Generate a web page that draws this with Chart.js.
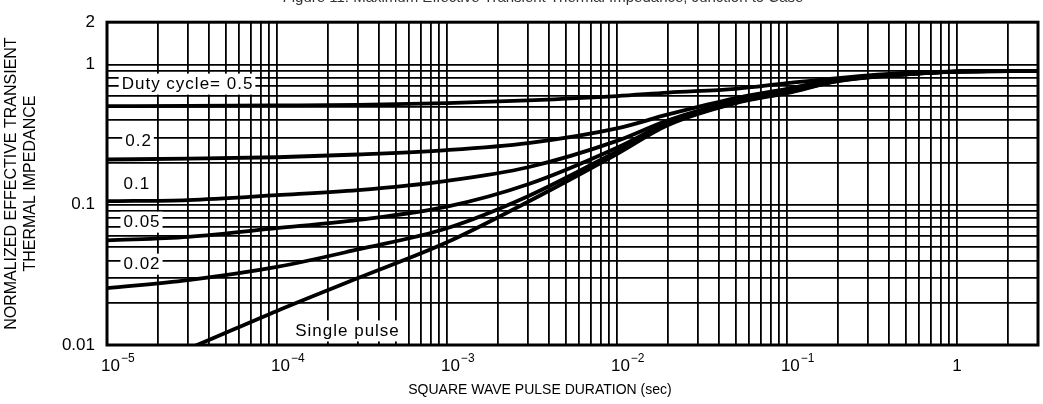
<!DOCTYPE html>
<html>
<head>
<meta charset="utf-8">
<title>Transient Thermal Impedance</title>
<script src="https://cdn.jsdelivr.net/npm/chart.js@4.4.1/dist/chart.umd.min.js"></script>
<style>
  html, body { margin: 0; padding: 0; background: #fff; }
  #chart { display: block; }
</style>
</head>
<body>
<canvas id="chart" width="1043" height="404"></canvas>
<script>
const pulseTimes = [1e-5, 3e-5, 1e-4, 3e-4, 1e-3, 3e-3, 1e-2, 2e-2, 5e-2, 0.1, 0.2, 0.5, 1, 3];

// Normalized effective transient thermal impedance, one list per duty cycle
const duty50 = [0.505, 0.506, 0.51, 0.515, 0.53, 0.555, 0.595, 0.63, 0.67, 0.735, 0.80, 0.87, 0.89, 0.90];
const duty20 = [0.21, 0.213, 0.218, 0.228, 0.245, 0.275, 0.35, 0.44, 0.575, 0.67, 0.785, 0.86, 0.89, 0.90];
const duty10 = [0.106, 0.108, 0.117, 0.127, 0.148, 0.185, 0.285, 0.40, 0.55, 0.645, 0.775, 0.855, 0.89, 0.90];
const duty05 = [0.0557, 0.059, 0.068, 0.078, 0.097, 0.14, 0.255, 0.385, 0.54, 0.635, 0.77, 0.85, 0.89, 0.90];
const duty02 = [0.0254, 0.029, 0.036, 0.048, 0.068, 0.115, 0.24, 0.375, 0.535, 0.63, 0.765, 0.85, 0.89, 0.90];
const singlePulse = [0.0055, 0.0094, 0.0175, 0.030, 0.054, 0.105, 0.23, 0.37, 0.53, 0.625, 0.76, 0.85, 0.89, 0.90];

const seriesNames = ['Duty cycle= 0.5', '0.2', '0.1', '0.05', '0.02', 'Single pulse'];
const seriesValues = [duty50, duty20, duty10, duty05, duty02, singlePulse];

// Labelled decade ticks (x labels are base + superscript exponent)
const xTickValues = [1e-5, 1e-4, 1e-3, 1e-2, 1e-1, 1];
const xTickBases = ['10', '10', '10', '10', '10', '1'];
const xTickExponents = ['−5', '−4', '−3', '−2', '−1', ''];
const yTickValues = [0.01, 0.1, 1, 2];
const yTickLabels = ['0.01', '0.1', '1', '2'];

const FONT = "'Liberation Sans', Arial, Helvetica, sans-serif";
Chart.defaults.font.family = FONT;
Chart.defaults.color = '#000';

// 1..9 per decade, like printed log paper (Chart.js adds 1.5 steps otherwise)
function logGrid(scale) {
  const ticks = [];
  const lo = Math.floor(Math.log10(scale.min));
  const hi = Math.ceil(Math.log10(scale.max));
  for (let e = lo; e <= hi; e++) {
    for (let m = 1; m <= 9; m++) {
      const v = +(m * Math.pow(10, e)).toPrecision(6);
      if (v >= scale.min * 0.999 && v <= scale.max * 1.001) ticks.push({ value: v });
    }
  }
  scale.ticks = ticks;
}

function pickLabel(values, labels, v) {
  const i = values.findIndex(t => Math.abs(t - v) / t < 1e-6);
  return i < 0 ? '' : labels[i];
}

const figurePlugin = {
  id: 'figureText',
  afterDatasetsDraw(chart) {
    const { ctx, scales: { x, y } } = chart;
    // labels beside the curves, white box behind the text
    const spots = [
      [1.22e-5, 0.73], [1.28e-5, 0.287], [1.25e-5, 0.1415],
      [1.25e-5, 0.0757], [1.25e-5, 0.038], [1.28e-4, 0.0127]
    ];
    ctx.save();
    ctx.font = '17px ' + FONT;
    ctx.letterSpacing = '1px';
    ctx.textBaseline = 'middle';
    seriesNames.forEach((name, i) => {
      const px = x.getPixelForValue(spots[i][0]);
      const py = y.getPixelForValue(spots[i][1]);
      const w = ctx.measureText(name).width;
      ctx.fillStyle = '#fff';
      ctx.fillRect(px - 3, py - 10, w + 5, 21);
      ctx.fillStyle = '#000';
      ctx.fillText(name, px, py + 1);
    });
    ctx.restore();

    // heavy frame round the plot
    const a = chart.chartArea;
    ctx.save();
    ctx.strokeStyle = '#000';
    ctx.lineWidth = 3;
    ctx.strokeRect(a.left, a.top, a.right - a.left, a.bottom - a.top);
    ctx.restore();
  },
  afterDraw(chart) {
    const { ctx, scales: { x } } = chart;
    ctx.save();
    ctx.fillStyle = '#000';
    ctx.textBaseline = 'middle';

    // decade labels with raised exponents
    xTickValues.forEach((v, i) => {
      const px = x.getPixelForValue(v);
      ctx.font = '17px ' + FONT;
      const bw = ctx.measureText(xTickBases[i]).width;
      if (!xTickExponents[i]) {
        ctx.textAlign = 'center';
        ctx.fillText(xTickBases[i], px, 366);
        return;
      }
      ctx.textAlign = 'left';
      const left = px - 6;
      ctx.fillText(xTickBases[i], left, 366);
      ctx.font = '12px ' + FONT;
      ctx.fillText(xTickExponents[i], left + bw + 1, 359);
    });

    ctx.textAlign = 'center';
    ctx.font = '14px ' + FONT;
    ctx.fillText('SQUARE WAVE PULSE DURATION (sec)', 540, 390);

    // figure caption, mostly cut off by the top edge
    ctx.fillStyle = '#333';
    ctx.textBaseline = 'alphabetic';
    ctx.font = '15px ' + FONT;
    ctx.fillText('Figure 11. Maximum Effective Transient Thermal Impedance, Junction to Case', 543, 2);
    ctx.restore();
  }
};

new Chart(document.getElementById('chart'), {
  type: 'line',
  data: {
    datasets: seriesValues.map((vals, i) => ({
      label: seriesNames[i],
      data: pulseTimes.map((t, j) => ({ x: t, y: vals[j] })),
      borderColor: '#000',
      borderWidth: 3.8,
      pointRadius: 0,
      fill: false,
      cubicInterpolationMode: 'monotone'
    }))
  },
  options: {
    responsive: false,
    animation: false,
    layout: { padding: { top: 15, right: 5, left: 0, bottom: 0 } },
    plugins: { legend: { display: false }, tooltip: { enabled: false } },
    scales: {
      x: {
        type: 'logarithmic',
        min: 1e-5,
        max: 3,
        afterBuildTicks: logGrid,
        afterFit: s => { s.height = 59; },
        border: { display: false },
        grid: { color: '#000', lineWidth: 1.8, drawTicks: false },
        ticks: { display: false, autoSkip: false }
      },
      y: {
        type: 'logarithmic',
        min: 0.01,
        max: 2,
        afterBuildTicks: logGrid,
        afterFit: s => { s.width = 107; },
        border: { display: false },
        grid: { color: '#000', lineWidth: 1.8, drawTicks: false },
        ticks: {
          autoSkip: false,
          padding: 12,
          font: { size: 17 },
          callback: v => pickLabel(yTickValues, yTickLabels, v)
        },
        title: {
          display: true,
          text: ['NORMALIZED EFFECTIVE TRANSIENT', 'THERMAL IMPEDANCE'],
          font: { size: 16 },
          padding: { top: 2, bottom: 0 }
        }
      }
    }
  },
  plugins: [figurePlugin]
});
</script>
</body>
</html>
